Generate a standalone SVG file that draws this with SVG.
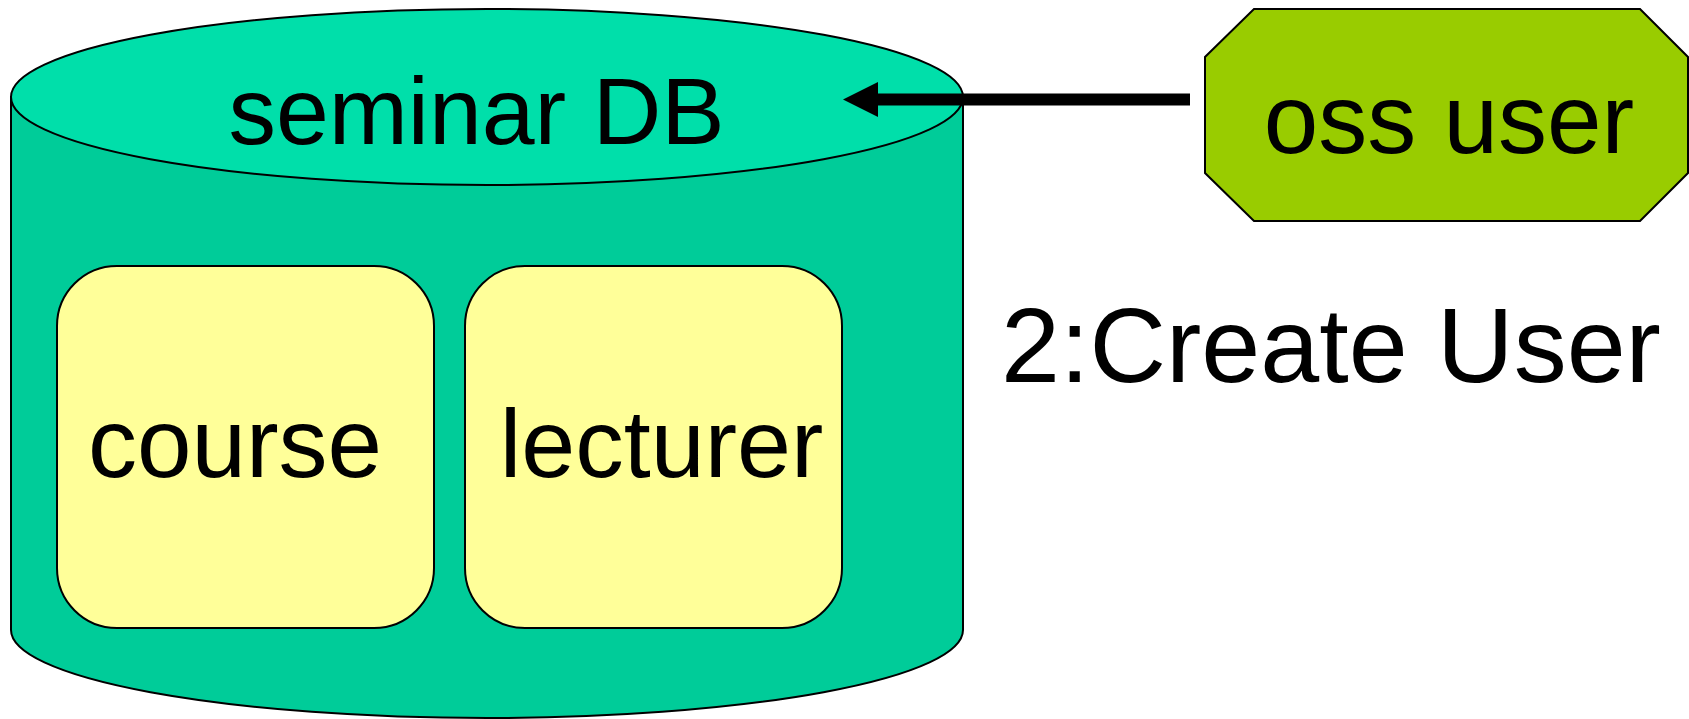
<svg xmlns="http://www.w3.org/2000/svg" width="1689" height="719" viewBox="0 0 1689 719">
  <defs>
    <style>
      .lbl { font-family: "Liberation Sans", Arial, sans-serif; fill: #000; }
      .edge { stroke: #000; stroke-width: 2; }
      .table { fill: #FFFF99; stroke: #000; stroke-width: 2; }
    </style>
    <!-- filled triangle; base sits on the line end, tip extends beyond it -->
    <marker id="head" markerUnits="userSpaceOnUse" markerWidth="36" markerHeight="36" viewBox="0 0 36 36" refX="0" refY="18" orient="auto">
      <path d="M35,18 L0,0.5 L0,35.5 Z" fill="#000"/>
    </marker>
  </defs>

  <!-- database cylinder -->
  <g id="seminar-db">
    <path class="edge" fill="#00CC99" d="M11,97 L11,630 A476,88 0 0 0 963,630 L963,97 Z"/>
    <ellipse class="edge" fill="#00DFAA" cx="487" cy="97" rx="476" ry="88"/>
    <text class="lbl" x="476.5" y="144" font-size="95" text-anchor="middle">seminar DB</text>
  </g>

  <g id="course">
    <rect class="table" x="57" y="266" width="377" height="362" rx="60" ry="60"/>
    <text class="lbl" x="235" y="477" font-size="98" text-anchor="middle">course</text>
  </g>

  <g id="lecturer">
    <rect class="table" x="465" y="266" width="377" height="362" rx="60" ry="60"/>
    <text class="lbl" x="661.5" y="477" font-size="97" text-anchor="middle">lecturer</text>
  </g>

  <g id="oss-user">
    <polygon class="edge" fill="#99CC00" points="1254,9 1640,9 1688,57 1688,173 1640,221 1254,221 1205,173 1205,57"/>
    <text class="lbl" x="1449" y="153" font-size="98" text-anchor="middle">oss user</text>
  </g>

  <!-- connectors -->
  <g id="connectors">
    <line x1="1190" y1="99.5" x2="878" y2="99.5" stroke="#000" stroke-width="12" marker-end="url(#head)"/>
  </g>

  <text id="create-user-label" class="lbl" x="1331" y="382" font-size="106" text-anchor="middle">2:Create User</text>
</svg>
